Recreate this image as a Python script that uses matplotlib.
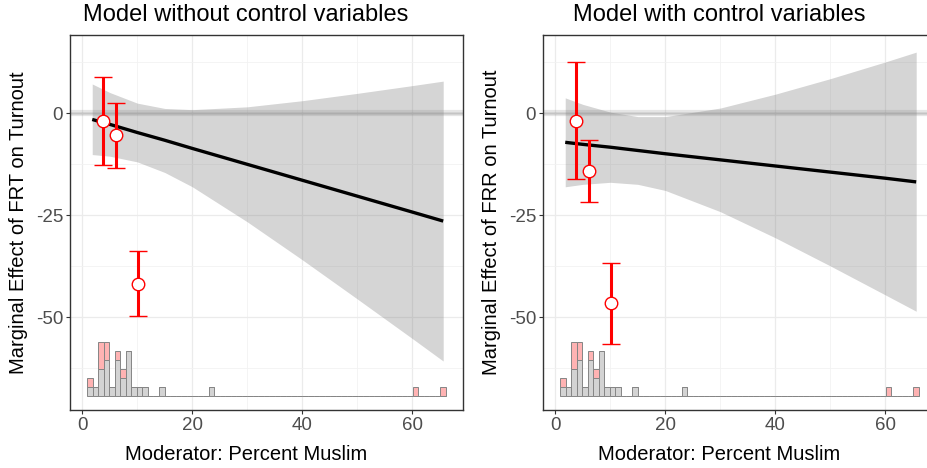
import numpy as np
import matplotlib
matplotlib.use('Agg')
import matplotlib.pyplot as plt

plt.rcParams['font.family'] = ['Liberation Sans', 'DejaVu Sans']
plt.rcParams['axes.unicode_minus'] = False

# marginal effect line and 95% band, read at a handful of moderator values
x_grid = [1.8, 5, 10, 15, 20, 30, 40, 50, 60, 65.6]

me_nocontrol = [-1.5, -2.7, -4.7, -6.6, -8.6, -12.5, -16.4, -20.3, -24.2, -26.4]
upper_nocontrol = [7.2, 5.1, 2.5, 1.2, 0.9, 1.6, 3.1, 4.9, 6.8, 7.9]
lower_nocontrol = [-10.1, -10.5, -11.9, -14.5, -18.0, -26.6, -35.9, -45.5, -55.2, -60.7]

me_control = [-7.1, -7.6, -8.3, -9.1, -9.9, -11.4, -12.9, -14.4, -15.9, -16.8]
upper_control = [3.8, 2.2, 0.3, -0.8, -0.8, 1.3, 4.7, 8.5, 12.6, 15.0]
lower_control = [-18.0, -17.4, -16.9, -17.4, -18.9, -24.1, -30.5, -37.4, -44.5, -48.5]

# binned estimates (low / mid / high tercile)
bin_x = [3.7, 6.1, 10.2]
bin_me_nocontrol = [-1.9, -5.4, -41.7]
bin_lo_nocontrol = [-12.7, -13.3, -49.7]
bin_hi_nocontrol = [9.0, 2.6, -33.8]

bin_me_control = [-1.8, -14.1, -46.6]
bin_lo_control = [-16.2, -21.8, -56.5]
bin_hi_control = [12.5, -6.5, -36.6]

# moderator histogram: 65 one-point bins from 0.9 to 66.1
hist_edges = np.linspace(0.9, 66.1, 66)
count_control = [1, 1, 3, 4, 1, 4, 2, 5, 1, 1, 1, 0, 0, 1, 0, 0, 0, 0, 0, 0,
                 0, 0, 1, 0, 0, 0, 0, 0, 0, 0, 0, 0, 0, 0, 0, 0, 0, 0, 0, 0,
                 0, 0, 0, 0, 0, 0, 0, 0, 0, 0, 0, 0, 0, 0, 0, 0, 0, 0, 0, 0,
                 0, 0, 0, 0, 0]
count_treated = [1, 0, 3, 2, 0, 1, 1, 0, 0, 0, 0, 0, 0, 0, 0, 0, 0, 0, 0, 0,
                 0, 0, 0, 0, 0, 0, 0, 0, 0, 0, 0, 0, 0, 0, 0, 0, 0, 0, 0, 0,
                 0, 0, 0, 0, 0, 0, 0, 0, 0, 0, 0, 0, 0, 0, 0, 0, 0, 0, 0, 1,
                 0, 0, 0, 0, 1]

W, H = 928, 468
fig = plt.figure(figsize=(W / 100, H / 100), dpi=100)


def draw_panel(ax, me, upper, lower, b_me, b_lo, b_hi, ylabel):
    ax.set_xlim(-2.24, 69.2)
    ax.set_ylim(-72.7, 19.2)

    ax.set_xticks([0, 20, 40, 60])
    ax.set_xticks([10, 30, 50], minor=True)
    ax.set_yticks([-50, -25, 0])
    ax.set_yticks([-62.5, -37.5, -12.5, 12.5], minor=True)
    ax.grid(True, which='major', color='#EBEBEB', lw=0.9, zorder=0)
    ax.grid(True, which='minor', color='#F2F2F2', lw=0.6, zorder=0)
    ax.set_axisbelow(True)
    ax.tick_params(which='major', length=3, width=0.8, color='#333333',
                   labelsize=13.5, labelcolor='#4D4D4D', pad=2)
    ax.tick_params(which='minor', length=0)
    for s in ax.spines.values():
        s.set_color('#333333')
        s.set_linewidth(1.0)

    # zero reference
    ax.axhline(0, color='grey', alpha=0.2, lw=4.5, zorder=1)
    ax.axhline(0, color='grey', alpha=0.2, lw=1.8, zorder=1)

    # confidence band and marginal effect
    ax.fill_between(x_grid, lower, upper, color='grey', alpha=0.33, lw=0, zorder=2)
    ax.plot(x_grid, me, color='black', lw=2.4, zorder=3, solid_capstyle='butt')

    # histogram of the moderator
    base = -69.2
    unit = 2.2
    left = hist_edges[:-1]
    width = np.diff(hist_edges)
    h_c = np.array(count_control) * unit
    h_t = np.array(count_treated) * unit
    ax.bar(left, h_c, width=width, bottom=base, align='edge',
           color='#D3D3D3', edgecolor='#858585', lw=0.7, zorder=2)
    ax.bar(left, h_t, width=width, bottom=base + h_c, align='edge',
           color='#FFB3B3', edgecolor='#858585', lw=0.7, zorder=2)

    # binned estimates
    yerr = [np.array(b_me) - np.array(b_lo), np.array(b_hi) - np.array(b_me)]
    ax.errorbar(bin_x, b_me, yerr=yerr, fmt='o', color='red', ecolor='red',
                elinewidth=2.2, capsize=6.8, capthick=3.0, ms=9,
                mfc='white', mec='red', mew=1.0, zorder=4)

    ax.set_ylabel(ylabel, fontsize=14.5, va='center')
    ax.yaxis.set_label_coords(-0.132, 0.5)


ax1 = fig.add_axes([70 / W, 1 - 410 / H, 393 / W, 375 / H])
draw_panel(ax1, me_nocontrol, upper_nocontrol, lower_nocontrol,
           bin_me_nocontrol, bin_lo_nocontrol, bin_hi_nocontrol,
           'Marginal Effect of FRT on Turnout')

ax2 = fig.add_axes([543 / W, 1 - 410 / H, 393 / W, 375 / H])
draw_panel(ax2, me_control, upper_control, lower_control,
           bin_me_control, bin_lo_control, bin_hi_control,
           'Marginal Effect of FRR on Turnout')

fig.text(246 / W, 1 - 15 / H, 'Model without control variables',
         ha='center', va='center', fontsize=17)
fig.text(719 / W, 1 - 15 / H, 'Model with control variables',
         ha='center', va='center', fontsize=17)
fig.text(246 / W, 1 - 455 / H, 'Moderator: Percent Muslim',
         ha='center', va='center', fontsize=14.5)
fig.text(719 / W, 1 - 455 / H, 'Moderator: Percent Muslim',
         ha='center', va='center', fontsize=14.5)

fig.savefig('out.png', dpi=100)
